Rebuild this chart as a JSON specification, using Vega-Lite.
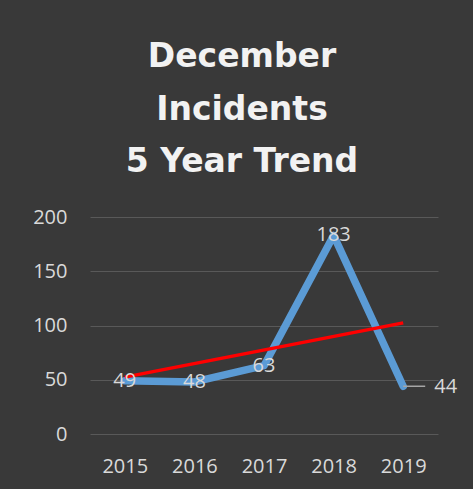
{
  "$schema": "https://vega.github.io/schema/vega-lite/v6.json",
  "width": 348,
  "height": 217,
  "autosize": "none",
  "padding": {"left": 90, "top": 217, "right": 35, "bottom": 55},
  "background": "#393939",
  "title": {
    "text": ["December", "Incidents", "5 Year Trend"],
    "font": "DejaVu Sans",
    "fontSize": 33,
    "fontWeight": "bold",
    "color": "#f2f2f2",
    "lineHeight": 52.5,
    "anchor": "middle",
    "frame": "group",
    "dx": -22,
    "offset": -5,
    "baseline": "bottom"
  },
  "config": {"view": {"stroke": null}},
  "data": {
    "values": [
      {"year": 2015, "incidents": 49},
      {"year": 2016, "incidents": 48},
      {"year": 2017, "incidents": 63},
      {"year": 2018, "incidents": 183},
      {"year": 2019, "incidents": 44}
    ]
  },
  "encoding": {
    "x": {
      "field": "year",
      "type": "quantitative",
      "scale": {"domain": [2014.5, 2019.5], "nice": false, "zero": false},
      "axis": {
        "title": null,
        "values": [2015, 2016, 2017, 2018, 2019],
        "format": "d",
        "grid": false,
        "domain": false,
        "ticks": false,
        "tickSize": 0,
        "labelPadding": 22,
        "labelFont": "Open Sans",
        "labelFontSize": 20,
        "labelColor": "#d9d9d9",
        "labelFlush": false,
        "labelOverlap": false
      }
    },
    "y": {
      "field": "incidents",
      "type": "quantitative",
      "scale": {"domain": [0, 200], "nice": false},
      "axis": {
        "title": null,
        "values": [0, 50, 100, 150, 200],
        "grid": true,
        "gridColor": "#595959",
        "gridWidth": 1,
        "domain": false,
        "ticks": false,
        "tickSize": 0,
        "labelPadding": 23,
        "labelFont": "Open Sans",
        "labelFontSize": 20,
        "labelColor": "#d9d9d9",
        "labelFlush": false,
        "labelOverlap": false
      }
    }
  },
  "layer": [
    {
      "mark": {"type": "line", "color": "#5b9bd5", "strokeWidth": 7.5, "strokeCap": "round", "strokeJoin": "round"}
    },
    {
      "transform": [{"regression": "incidents", "on": "year", "method": "linear"}],
      "mark": {"type": "line", "color": "#ff0000", "strokeWidth": 3.5}
    },
    {
      "transform": [{"filter": "datum.year < 2019"}],
      "mark": {"type": "text", "font": "Open Sans", "fontSize": 20, "color": "#d9d9d9", "align": "center", "baseline": "middle"},
      "encoding": {"text": {"field": "incidents", "type": "quantitative"}}
    },
    {
      "transform": [{"filter": "datum.year == 2019"}],
      "mark": {"type": "rule", "color": "#a6a6a6", "strokeWidth": 1.5, "x2Offset": 22},
      "encoding": {"x2": {"field": "year"}}
    },
    {
      "transform": [{"filter": "datum.year == 2019"}],
      "mark": {"type": "text", "font": "Open Sans", "fontSize": 20, "color": "#d9d9d9", "align": "left", "baseline": "middle", "dx": 31, "dy": 1},
      "encoding": {"text": {"field": "incidents", "type": "quantitative"}}
    }
  ]
}
